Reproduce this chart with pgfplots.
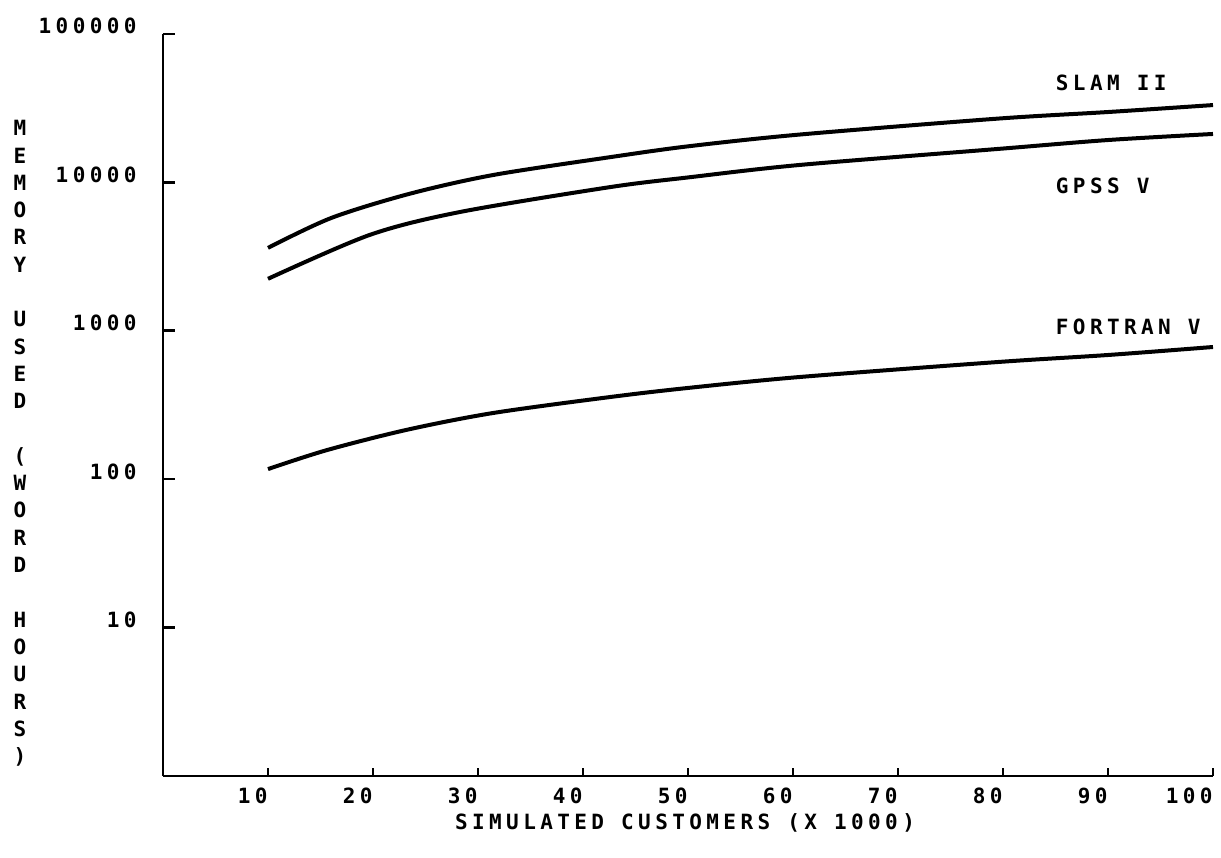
\documentclass[border=0pt]{standalone}
\usepackage{fontspec}
\setmainfont[LetterSpace=21]{DejaVu Sans Mono}
\usepackage{pgfplots}
\pgfplotsset{compat=1.18}
\usetikzlibrary{calc}

\begin{document}
\bfseries\fontsize{10.5}{13}\selectfont
\begin{tikzpicture}
  \begin{axis}[
      name=ax,
      scale only axis,
      width=525pt, height=371pt,
      xmin=0, xmax=100,
      ymin=1, ymax=100000,
      ymode=log,
      yminorticks=false,
      axis x line=bottom,
      axis y line=left,
      axis line style={-, line width=1.4pt},
      tick align=inside,
      xtick={10,20,30,40,50,60,70,80,90,100},
      ytick={10,100,1000,10000,100000},
      yticklabels={10,100,1000,10000,100000},
      x tick style={black, line width=1.3pt, /pgfplots/major tick length=4pt},
      y tick style={black, line width=1.3pt, /pgfplots/major tick length=6pt},
      tick label style={font=\fontsize{10.5}{12}\selectfont\bfseries},
      xticklabel style={anchor=north east, inner sep=0pt, yshift=-6pt, xshift=0pt},
      yticklabel style={anchor=base east, inner sep=0pt, xshift=-13pt},
      /pgf/number format/assume math mode=true,
      clip=false
    ]
    % SLAM II
    \addplot[black, line width=2pt, smooth] coordinates {
      (10,3620) (16,5750) (23.4,8350) (31.4,11200) (42.6,14800)
      (50,17500) (60.6,21000) (79.5,26900) (90,29800) (100,33200)
    };
    % GPSS V
    \addplot[black, line width=2pt, smooth] coordinates {
      (10,2240) (19.7,4430) (28.3,6320) (42.6,9300) (50,10800)
      (60.6,13100) (79.5,16800) (90,19300) (100,21200)
    };
    % FORTRAN V
    \addplot[black, line width=2pt, smooth] coordinates {
      (10,117) (15.6,157) (23.2,215) (31.4,279) (42.6,358)
      (50,412) (60.6,488) (79.5,616) (90,687) (100,778)
    };

    \node[anchor=west, inner sep=0pt] at (axis cs:85,46800) {SLAM II};
    \node[anchor=west, inner sep=0pt] at (axis cs:85,9460) {GPSS V};
    \node[anchor=west, inner sep=0pt] at (axis cs:85,1060) {FORTRAN V};

    \node[anchor=base, inner sep=0pt] at (rel axis cs:0,0)
      [xshift=261pt, yshift=-26.5pt] {SIMULATED CUSTOMERS (X 1000)};

    \node[anchor=north, inner sep=0pt, align=center,
      font=\fontsize{10.5}{13.65}\selectfont\bfseries]
      at (rel axis cs:0,0) [xshift=-71.5pt, yshift=328pt]
      {M\\E\\M\\O\\R\\Y\\~\\U\\S\\E\\D\\~\\(\\W\\O\\R\\D\\~\\H\\O\\U\\R\\S\\)};
  \end{axis}
  \pgfresetboundingbox
  \path[use as bounding box] ($(ax.south west)+(-81.5pt,-40.5pt)$)
    rectangle ($(ax.south west)+(529pt,388pt)$);
\end{tikzpicture}
\end{document}
